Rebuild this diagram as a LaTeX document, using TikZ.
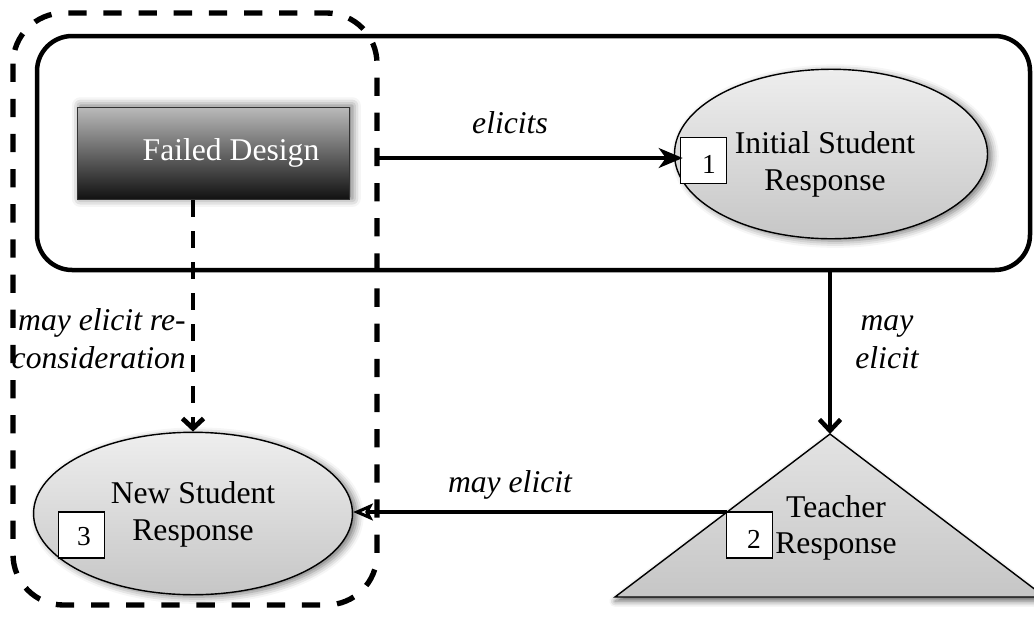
\documentclass[tikz,border=0pt]{standalone}
\usepackage{fontspec}
\setmainfont{Liberation Serif}
\usetikzlibrary{arrows.meta,shadows.blur,shapes.geometric}
\definecolor{fdtop}{HTML}{BABABA}
\definecolor{fdmid}{HTML}{7A7A7A}
\definecolor{fdbot}{HTML}{101010}
\definecolor{eltop}{HTML}{EEEEEE}
\definecolor{elbot}{HTML}{C6C6C6}
\begin{document}
\begin{tikzpicture}[x=0.025cm,y=-0.025cm,
  txt/.style={font=\fontsize{22.5}{26}\selectfont, align=center, inner sep=0pt},
  lbl/.style={font=\fontsize{22.5}{27}\selectfont\itshape, inner sep=0pt},
  digit/.style={font=\fontsize{19.5}{20}\selectfont, inner sep=0pt},
  numbox/.style={draw=black, line width=0.9pt, fill=white, minimum size=32.6pt, inner sep=0pt},
  oval/.style={ellipse, draw=black, line width=1pt, top color=eltop, bottom color=elbot,
    blur shadow={shadow xshift=3pt, shadow yshift=-1.5pt, shadow blur radius=5pt, shadow opacity=55}},
  fdbox/.style={rectangle, draw=black!80, line width=0.8pt, top color=fdtop, middle color=fdmid, bottom color=fdbot,
    minimum width=193.5pt, minimum height=66pt,
    blur shadow={shadow xshift=2pt, shadow yshift=1pt, shadow blur radius=6pt, shadow opacity=60}},
  solidframe/.style={draw=black, line width=3.2pt, rounded corners=25pt},
  dashframe/.style={draw=black, line width=3.8pt, rounded corners=36pt, dash pattern=on 13pt off 12pt},
  conn/.style={draw=black, line width=3.2pt},
  connd/.style={draw=black, line width=3.4pt, dash pattern=on 12pt off 10pt}
]
\useasboundingbox (0,0) rectangle (1034,620);

% frames
\draw[solidframe] (37,36) rectangle (1030,270);

% triangle (teacher response)
\coordinate (tapex) at (830,434);
\coordinate (tbl) at (615,597);
\coordinate (tbr) at (1045,597);
\coordinate (tleft) at (727,512);
\path[top color=eltop!90!gray, bottom color=elbot, draw=black, line width=1pt,
  blur shadow={shadow xshift=0pt, shadow yshift=-3pt, shadow blur radius=4pt, shadow opacity=60}]
  (tapex) -- (tbl) -- (tbr) -- cycle;

% nodes
\node[fdbox] (fd) at (213.5,153.5) {};
\node[txt, text=white] (fdt) at (231,153) {Failed Design};

\node[oval, minimum width=222.6pt, minimum height=120.5pt] (is) at (831,154) {};
\node[txt] (ist) at (825,164.5) {Initial Student\\Response};

\node[oval, minimum width=226.8pt, minimum height=115.5pt] (ns) at (193,513.5) {};
\node[txt] (nst) at (193,514.5) {New Student\\Response};

\node[txt] (trt) at (836,528) {Teacher\\Response};

\node[numbox] (b1) at (703.5,160.5) {};
\node[digit] (d1) at (709,164) {1};
\node[numbox] (b2) at (749.5,535) {};
\node[digit] (d2) at (754,539) {2};
\node[numbox] (b3) at (81.5,535) {};
\node[digit] (d3) at (84,537) {3};

% dashed frame
\draw[dashframe] (13,13) rectangle (377,605);
\coordinate (frs) at (830,271);

% connectors
\draw[conn, -{Stealth[length=17pt,width=14pt,inset=5pt]}] ([xshift=18]fd.east |- 0,158) coordinate (e1s) -- ([xshift=2]b1.west |- e1s);
\draw[conn, -{Straight Barb[length=8pt,width=15pt]}] (frs) -- (tapex);
\draw[conn, -{Stealth[open,length=14pt,width=12pt,inset=3pt,line width=2.2pt]}] (tleft) -- (ns.east |- tleft);
\draw[connd, -{Straight Barb[length=7pt,width=15pt]}] (fd.south -| ns.north) -- (ns.north);

% labels
\node[lbl] (l1) at (510,123) {elicits};
\node[lbl, align=center] (l2) at (887,342) {may\\elicit};
\node[lbl] (l3) at (510,485) {may elicit};
\node[lbl, align=right, anchor=east] (l4) at (186,339) {may elicit re-\\consideration};
\end{tikzpicture}
\end{document}
